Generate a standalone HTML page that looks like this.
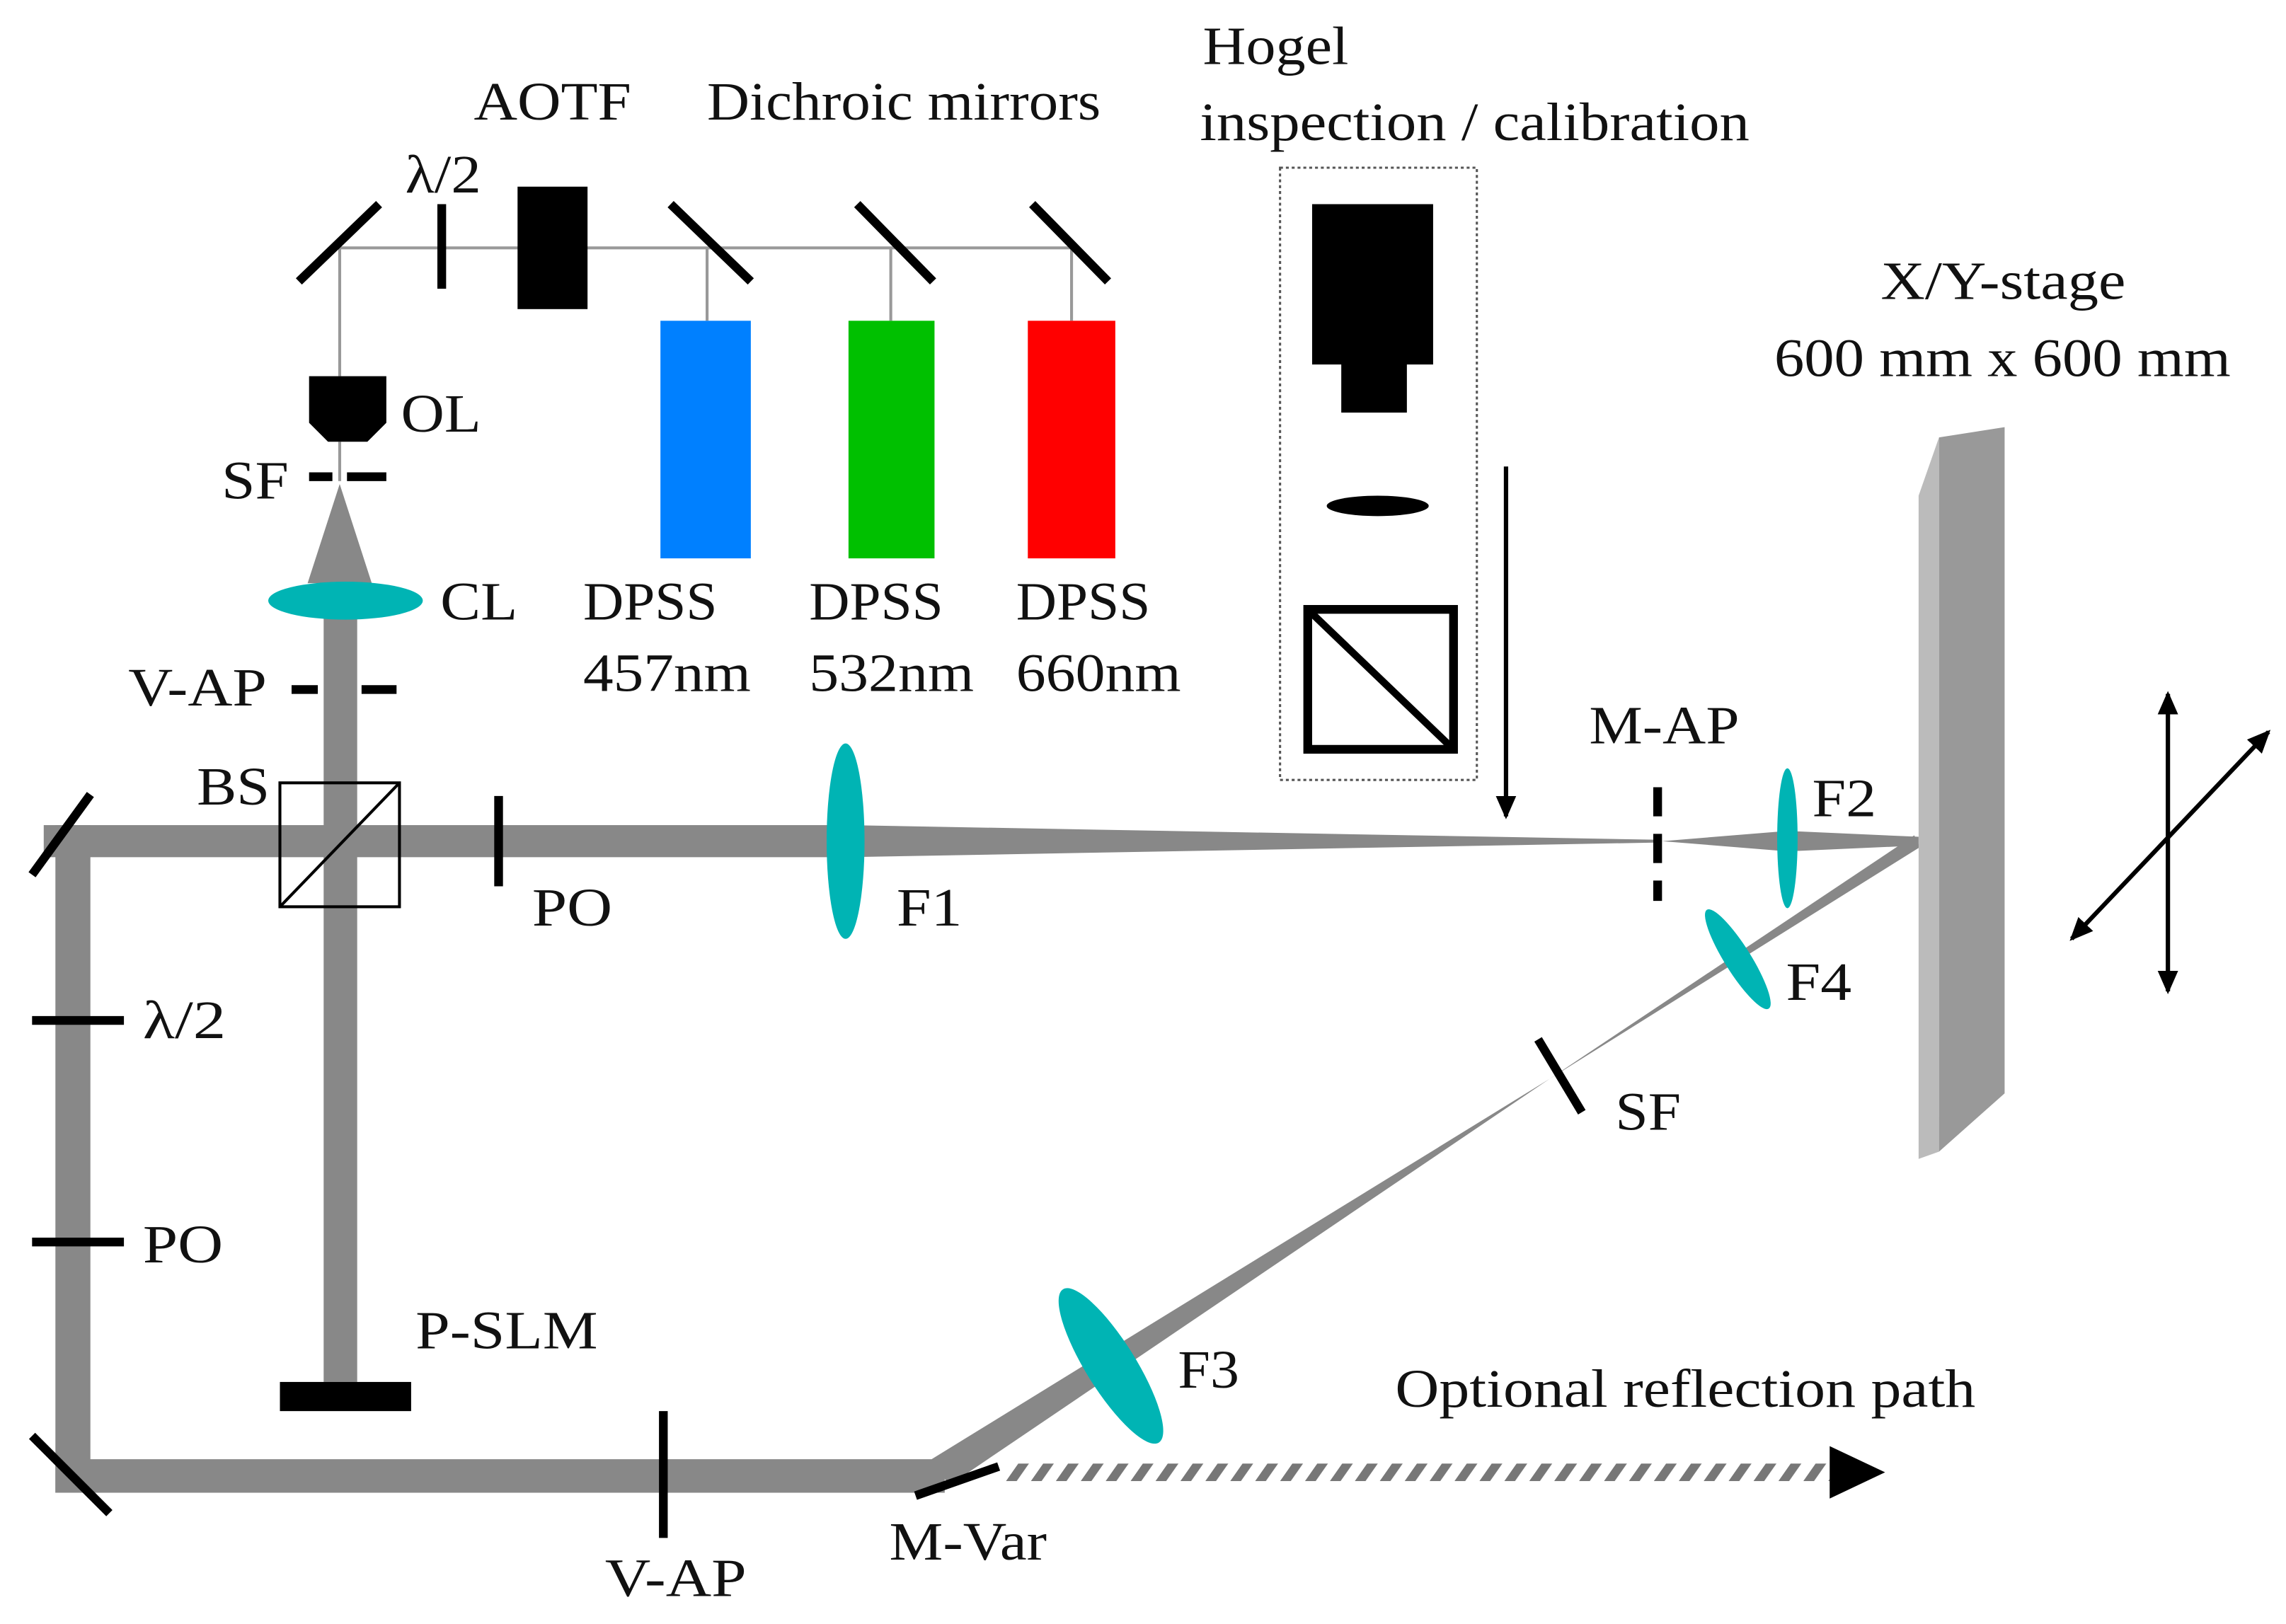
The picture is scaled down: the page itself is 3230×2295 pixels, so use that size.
<!DOCTYPE html>
<html><head><meta charset="utf-8"><style>
html,body{margin:0;padding:0;background:#fff;}
svg{display:block;}
</style></head><body>
<svg width="3230" height="2295" viewBox="0 0 1568 1114" xmlns="http://www.w3.org/2000/svg">
<defs>
<marker id="ah" markerWidth="16" markerHeight="14" refX="14" refY="7" orient="auto-start-reverse" markerUnits="userSpaceOnUse"><path d="M0,0 L16,7 L0,14 Z" fill="#000"/></marker>
<pattern id="hatch" width="14" height="14" patternUnits="userSpaceOnUse" patternTransform="rotate(35)"><rect width="14" height="14" fill="#fff"/><rect width="6" height="14" fill="#777"/></pattern>
</defs>
<g stroke="#999" stroke-width="2" fill="none">
<line x1="233" y1="170" x2="735" y2="170"/>
<line x1="233" y1="170" x2="233" y2="258"/>
<line x1="485" y1="170" x2="485" y2="220"/>
<line x1="611" y1="170" x2="611" y2="220"/>
<line x1="735" y1="170" x2="735" y2="220"/>
<line x1="233" y1="303" x2="233" y2="330"/>
</g>
<g stroke="#000" stroke-width="6">
<line x1="205" y1="193" x2="260" y2="140"/>
<line x1="303" y1="140" x2="303" y2="198"/>
<line x1="460" y1="140" x2="515" y2="193"/>
<line x1="588" y1="140" x2="640" y2="193"/>
<line x1="708" y1="140" x2="760" y2="193"/>
</g>
<rect x="355" y="128" width="48" height="84" fill="#000"/>
<rect x="453" y="220" width="62" height="163" fill="#0080ff"/>
<rect x="582" y="220" width="59" height="163" fill="#00c000"/>
<rect x="705" y="220" width="60" height="163" fill="#ff0000"/>
<path d="M212,258 H265 V290 L252,303 H225 L212,290 Z" fill="#000"/>
<g stroke="#000" stroke-width="6"><line x1="212" y1="327" x2="228" y2="327"/><line x1="238" y1="327" x2="265" y2="327"/></g>
<path d="M233,332 L255,400 L211,400 Z" fill="#888"/>
<rect x="222" y="400" width="23" height="548" fill="#888"/>
<rect x="30" y="566" width="550" height="22" fill="#888"/>
<path d="M580,566 L1135,576 L1135,578 L580,588 Z" fill="#888"/>
<path d="M1140,577 L1226,570 L1316,574 L1316,580 L1226,584 Z" fill="#888"/>
<rect x="38" y="566" width="24" height="458" fill="#888"/>
<rect x="38" y="1001" width="610" height="23" fill="#888"/>
<path d="M639,1001 L1063,740 L651,1019 Z" fill="#888"/>
<path d="M1063,740 L1313,573 L1317,581 Z" fill="#888"/>
<g stroke="#000" stroke-width="6">
<line x1="22" y1="600" x2="62" y2="545"/>
<line x1="22" y1="985" x2="75" y2="1038"/>
<line x1="22" y1="700" x2="85" y2="700"/>
<line x1="22" y1="852" x2="85" y2="852"/>
<line x1="200" y1="473" x2="218" y2="473"/><line x1="248" y1="473" x2="272" y2="473"/>
<line x1="342" y1="546" x2="342" y2="608"/>
<line x1="455" y1="968" x2="455" y2="1055"/>
<line x1="628" y1="1026" x2="685" y2="1006"/>
<line x1="1055" y1="713" x2="1085" y2="763"/>
</g>
<line x1="1137" y1="540" x2="1137" y2="618" stroke="#000" stroke-width="6" stroke-dasharray="20,12"/>
<rect x="192" y="537" width="82" height="85" fill="none" stroke="#000" stroke-width="2"/>
<line x1="192" y1="622" x2="274" y2="537" stroke="#000" stroke-width="2"/>
<rect x="192" y="948" width="90" height="20" fill="#000"/>
<g fill="#00b4b4">
<ellipse cx="237" cy="412" rx="53" ry="13"/>
<ellipse cx="580" cy="577" rx="13" ry="67"/>
<ellipse cx="1226" cy="575" rx="7" ry="48"/>
<ellipse cx="1192" cy="658" rx="9" ry="40" transform="rotate(-32 1192 658)"/>
<ellipse cx="762" cy="937" rx="17" ry="62" transform="rotate(-32 762 937)"/>
</g>
<path d="M1316,340 L1330,300 V790 L1316,795 Z" fill="#bbb"/>
<path d="M1330,300 L1375,293 V750 L1330,790 Z" fill="#999"/>
<g stroke="#000" stroke-width="3">
<line x1="1487" y1="476" x2="1487" y2="680" marker-start="url(#ah)" marker-end="url(#ah)"/>
<line x1="1421" y1="644" x2="1556" y2="502" marker-start="url(#ah)" marker-end="url(#ah)"/>
</g>
<rect x="878" y="115" width="135" height="420" fill="none" stroke="#555" stroke-width="1.5" stroke-dasharray="2,2"/>
<rect x="900" y="140" width="83" height="110" fill="#000"/>
<rect x="920" y="248" width="45" height="35" fill="#000"/>
<ellipse cx="945" cy="347" rx="35" ry="7" fill="#000"/>
<rect x="897" y="418" width="100" height="96" fill="none" stroke="#000" stroke-width="6"/>
<line x1="897" y1="418" x2="997" y2="514" stroke="#000" stroke-width="5"/>
<line x1="1033" y1="320" x2="1033" y2="560" stroke="#000" stroke-width="3" marker-end="url(#ah)"/>
<rect x="690" y="1004" width="565" height="12" fill="url(#hatch)"/>
<path d="M1255,992 L1293,1010 L1255,1028 Z" fill="#000"/>
<g font-family="Liberation Serif, DejaVu Serif, serif" font-size="37" fill="#111" lengthAdjust="spacingAndGlyphs">
<text x="278" y="132" textLength="52" lengthAdjust="spacingAndGlyphs">λ/2</text>
<text x="325" y="82" textLength="108" lengthAdjust="spacingAndGlyphs">AOTF</text>
<text x="485" y="82" textLength="270" lengthAdjust="spacingAndGlyphs">Dichroic mirrors</text>
<text x="825" y="44" textLength="100" lengthAdjust="spacingAndGlyphs">Hogel</text>
<text x="823" y="96" textLength="377" lengthAdjust="spacingAndGlyphs">inspection / calibration</text>
<text x="1290" y="205" textLength="168" lengthAdjust="spacingAndGlyphs">X/Y-stage</text>
<text x="1217" y="258" textLength="313" lengthAdjust="spacingAndGlyphs">600 mm  x 600 mm</text>
<text x="275" y="296" textLength="55" lengthAdjust="spacingAndGlyphs">OL</text>
<text x="152" y="342" textLength="46" lengthAdjust="spacingAndGlyphs">SF</text>
<text x="302" y="425" textLength="53" lengthAdjust="spacingAndGlyphs">CL</text>
<text x="400" y="425" textLength="92" lengthAdjust="spacingAndGlyphs">DPSS</text>
<text x="400" y="474" textLength="115" lengthAdjust="spacingAndGlyphs">457nm</text>
<text x="555" y="425" textLength="92" lengthAdjust="spacingAndGlyphs">DPSS</text>
<text x="555" y="474" textLength="113" lengthAdjust="spacingAndGlyphs">532nm</text>
<text x="697" y="425" textLength="92" lengthAdjust="spacingAndGlyphs">DPSS</text>
<text x="697" y="474" textLength="113" lengthAdjust="spacingAndGlyphs">660nm</text>
<text x="88" y="484" textLength="95" lengthAdjust="spacingAndGlyphs">V-AP</text>
<text x="135" y="552" textLength="50" lengthAdjust="spacingAndGlyphs">BS</text>
<text x="365" y="635" textLength="55" lengthAdjust="spacingAndGlyphs">PO</text>
<text x="615" y="635" textLength="45" lengthAdjust="spacingAndGlyphs">F1</text>
<text x="1090" y="510" textLength="103" lengthAdjust="spacingAndGlyphs">M-AP</text>
<text x="1243" y="560" textLength="44" lengthAdjust="spacingAndGlyphs">F2</text>
<text x="1225" y="686" textLength="45" lengthAdjust="spacingAndGlyphs">F4</text>
<text x="1108" y="775" textLength="45" lengthAdjust="spacingAndGlyphs">SF</text>
<text x="98" y="712" textLength="57" lengthAdjust="spacingAndGlyphs">λ/2</text>
<text x="98" y="866" textLength="55" lengthAdjust="spacingAndGlyphs">PO</text>
<text x="285" y="925" textLength="125" lengthAdjust="spacingAndGlyphs">P-SLM</text>
<text x="808" y="952" textLength="42" lengthAdjust="spacingAndGlyphs">F3</text>
<text x="957" y="965" textLength="398" lengthAdjust="spacingAndGlyphs">Optional reflection path</text>
<text x="415" y="1095" textLength="97" lengthAdjust="spacingAndGlyphs">V-AP</text>
<text x="610" y="1070" textLength="108" lengthAdjust="spacingAndGlyphs">M-Var</text>
</g>
</svg>
</body></html>
